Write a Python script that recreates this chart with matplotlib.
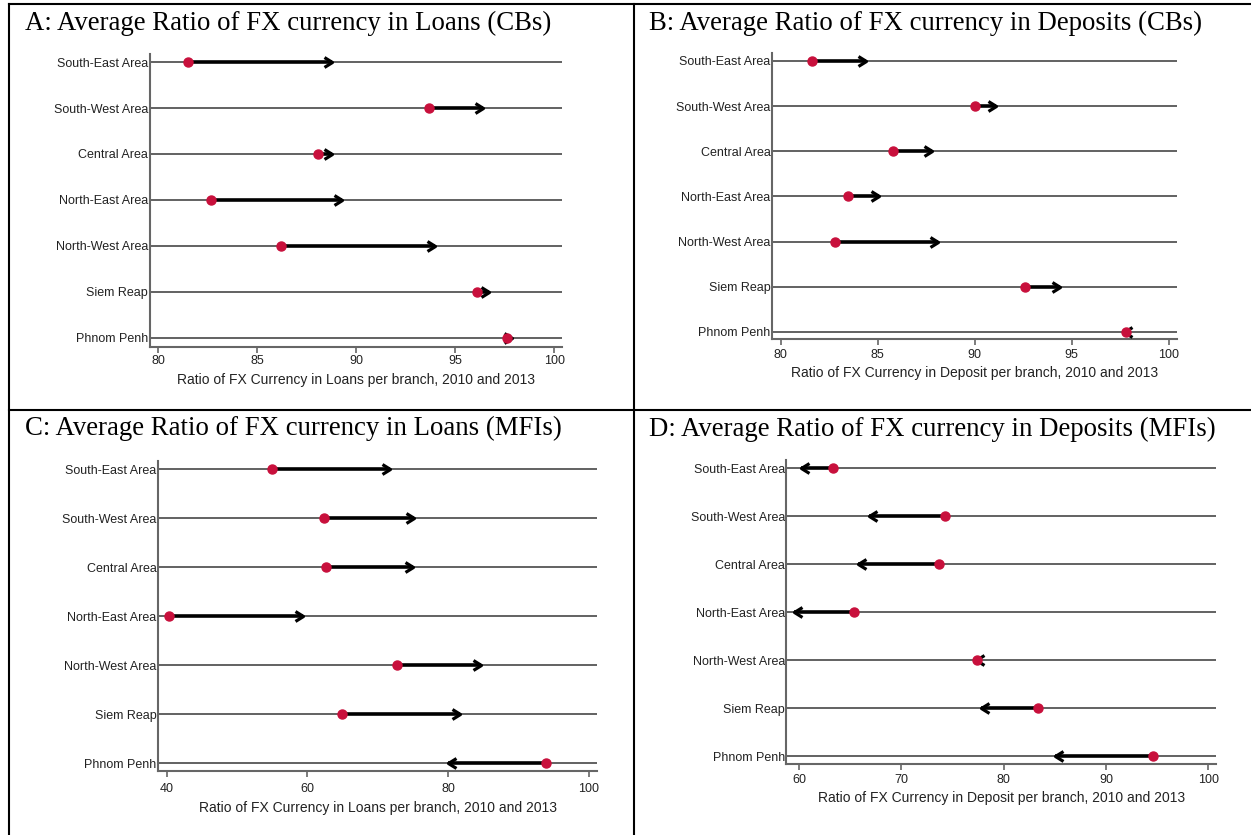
import matplotlib
matplotlib.use("Agg")
import matplotlib.pyplot as plt
from matplotlib.lines import Line2D
from matplotlib.path import Path
from matplotlib.markers import MarkerStyle

# ---------------- data ----------------
regions = ["South-East Area", "South-West Area", "Central Area", "North-East Area",
           "North-West Area", "Siem Reap", "Phnom Penh"]

loans_cb_2010 = [81.5, 93.7, 88.1, 82.7, 86.2, 96.1, 97.6]
loans_cb_2013 = [88.8, 96.4, 88.8, 89.3, 94.0, 96.7, 97.9]

dep_cb_2010 = [81.6, 90.0, 85.8, 83.5, 82.8, 92.6, 97.8]
dep_cb_2013 = [84.4, 91.1, 87.8, 85.1, 88.1, 94.4, 97.7]

loans_mfi_2010 = [55.0, 62.3, 62.7, 40.3, 72.7, 64.9, 93.9]
loans_mfi_2013 = [71.8, 75.1, 75.0, 59.4, 84.7, 81.7, 80.0]

dep_mfi_2010 = [63.3, 74.3, 73.7, 65.4, 77.4, 83.4, 94.6]
dep_mfi_2013 = [60.2, 66.8, 65.8, 59.5, 77.3, 77.8, 85.0]

titles = ["A: Average Ratio of FX currency in Loans (CBs)",
          "B: Average Ratio of FX currency in Deposits (CBs)",
          "C: Average Ratio of FX currency in Loans (MFIs)",
          "D: Average Ratio of FX currency in Deposits (MFIs)"]
xlabels = ["Ratio of FX Currency in Loans per branch, 2010 and 2013",
           "Ratio of FX Currency in Deposit per branch, 2010 and 2013",
           "Ratio of FX Currency in Loans per branch, 2010 and 2013",
           "Ratio of FX Currency in Deposit per branch, 2010 and 2013"]
xticks_list = [[80, 85, 90, 95, 100], [80, 85, 90, 95, 100],
               [40, 60, 80, 100], [60, 70, 80, 90, 100]]

# ---------------- layout ----------------
W, H = 1251, 835
fig = plt.figure(figsize=(W / 100, H / 100), dpi=100)
fig.patch.set_facecolor("white")

def px_axes(left, right, top, bottom):
    return fig.add_axes([left / W, 1 - bottom / H, (right - left) / W, (bottom - top) / H])

panels = [
    dict(box=(149.5, 562, 54, 347), xlim=(79.57, 100.4), ylim=(6.196, -0.174),
         start=loans_cb_2010, end=loans_cb_2013, title_xy=(25, 30), tpad=2, lpad=4),
    dict(box=(771.8, 1176.5, 53, 339), xlim=(79.55, 100.41), ylim=(6.155, -0.177),
         start=dep_cb_2010, end=dep_cb_2013, title_xy=(649, 30), tpad=3, lpad=4),
    dict(box=(157.9, 597.4, 460.7, 771), xlim=(38.75, 101.25), ylim=(6.163, -0.17),
         start=loans_mfi_2010, end=loans_mfi_2013, title_xy=(25, 435), tpad=5, lpad=4),
    dict(box=(786.4, 1216.1, 460, 764), xlim=(58.76, 100.77), ylim=(6.16, -0.167),
         start=dep_mfi_2010, end=dep_mfi_2013, title_xy=(649, 436), tpad=3, lpad=4),
]

# open chevron arrowheads (tip at the marker origin)
head_right = MarkerStyle(Path([(-1, 0.62), (0, 0), (-1, -0.62)],
                              [Path.MOVETO, Path.LINETO, Path.LINETO]),
                         fillstyle="none", joinstyle="miter", capstyle="butt")
head_left = MarkerStyle(Path([(1, 0.62), (0, 0), (1, -0.62)],
                             [Path.MOVETO, Path.LINETO, Path.LINETO]),
                        fillstyle="none", joinstyle="miter", capstyle="butt")

dot_color = "#C8103C"
ypos = list(range(len(regions)))

for i, p in enumerate(panels):
    ax = px_axes(*p["box"])
    ax.set_xlim(*p["xlim"])
    ax.set_ylim(*p["ylim"])
    ax.set_yticks(ypos)
    ax.set_yticklabels(regions, fontsize=9, family="Liberation Sans", color="#222222")
    ax.set_xticks(xticks_list[i])
    ax.set_xticklabels([str(t) for t in xticks_list[i]], fontsize=9,
                       family="Liberation Sans", color="#222222")
    ax.tick_params(axis="y", length=0, pad=1)
    ax.tick_params(axis="x", length=4, width=1.2, color="#666666", pad=p["tpad"])
    ax.set_xlabel(xlabels[i], fontsize=10, family="Liberation Sans",
                  color="#222222", labelpad=p["lpad"])
    ax.yaxis.grid(True, color="#555555", lw=1.3)
    ax.set_axisbelow(True)
    for s in ("top", "right"):
        ax.spines[s].set_visible(False)
    for s in ("left", "bottom"):
        ax.spines[s].set_color("#666666")
        ax.spines[s].set_linewidth(1.5)
    ax.set_facecolor("none")

    for y, a, b in zip(ypos, p["start"], p["end"]):
        ax.plot([a, b], [y, y], color="black", lw=2.6, solid_capstyle="butt", zorder=3)
        ax.plot([b], [y], linestyle="none",
                marker=head_right if b >= a else head_left,
                fillstyle="none", mfc="none",
                ms=11.5, mew=2.3, mec="black", zorder=4)
    ax.plot(p["start"], ypos, "o", ms=6.5, color=dot_color, mec=dot_color, zorder=5,
            clip_on=False)

    tx, ty = p["title_xy"]
    fig.text(tx / W, 1 - ty / H, titles[i], fontsize=19.3, family="Liberation Serif",
             va="baseline", ha="left", color="black")

# frame lines (figure pixel coordinates)
def fline(x0, y0, x1, y1):
    fig.add_artist(Line2D([x0 / W, x1 / W], [1 - y0 / H, 1 - y1 / H],
                          transform=fig.transFigure, color="black", lw=1.5))

fline(9, 4, W, 4)
fline(9, 4, 9, H)
fline(634, 4, 634, H)
fline(9, 410, W, 410)

fig.savefig("out.png", dpi=100)
